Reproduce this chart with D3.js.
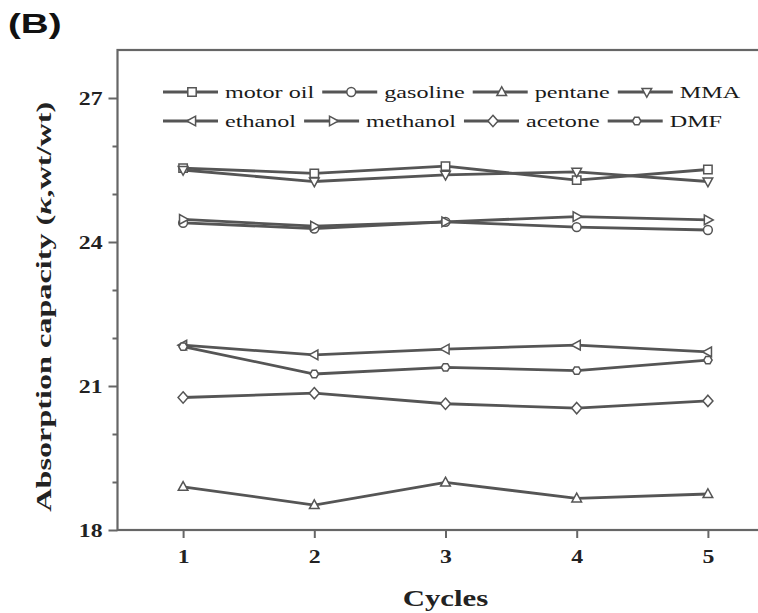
<!DOCTYPE html>
<html>
<head>
<meta charset="utf-8">
<script src="https://cdn.jsdelivr.net/npm/d3@7"></script>
<style>
  html, body { margin: 0; padding: 0; background: #fff; }
  svg { display: block; }
</style>
</head>
<body>
<div id="chart"></div>
<script>
// ---------- data ----------
const cycles = [1, 2, 3, 4, 5];
const xTickLabels = ["1", "2", "3", "4", "5"];
const yTicks = [18, 21, 24, 27];
const yMinorTicks = [19, 20, 22, 23, 25, 26];
const seriesNames = ["motor oil", "gasoline", "pentane", "MMA", "ethanol", "methanol", "acetone", "DMF"];
const seriesSymbols = ["square", "circle", "up", "down", "left", "right", "diamond", "hexagon"];
const motorOil = [25.54, 25.43, 25.58, 25.29, 25.51];
const gasoline = [24.40, 24.28, 24.42, 24.31, 24.25];
const pentane  = [18.90, 18.52, 18.99, 18.66, 18.75];
const mma      = [25.50, 25.26, 25.40, 25.46, 25.26];
const ethanol  = [21.85, 21.65, 21.77, 21.85, 21.71];
const methanol = [24.47, 24.33, 24.42, 24.53, 24.46];
const acetone  = [20.76, 20.85, 20.63, 20.54, 20.69];
const dmf      = [21.82, 21.25, 21.39, 21.32, 21.54];
const seriesValues = [motorOil, gasoline, pentane, mma, ethanol, methanol, acetone, dmf];

// ---------- layout ----------
const W = 758, H = 613;
const LINE = "#555", AXIS = "#666";
const SERIF = "'Liberation Serif', 'Times New Roman', serif";
const svg = d3.select("#chart").append("svg").attr("width", W).attr("height", H);
svg.append("rect").attr("width", W).attr("height", H).attr("fill", "#fff");

const x = d3.scaleLinear().domain([0.5, 5.5]).range([117.5, 773.5]);
const y = d3.scaleLinear().domain([18, 28]).range([530, 50]);

// horizontal stretch of a text placed at (tx, ty)
function stretchAt(sel, tx, ty, sx) {
  sel.attr("x", 0).attr("y", 0)
     .attr("transform", `translate(${tx},${ty}) scale(${sx},1)`);
}

function symbolPath(type, r) {
  const pts = {
    square: [[-1, -1], [1, -1], [1, 1], [-1, 1]],
    up: [[0, -1.25], [1.15, 0.85], [-1.15, 0.85]],
    down: [[0, 1.25], [1.15, -0.85], [-1.15, -0.85]],
    left: [[-1.25, 0], [0.85, -1.15], [0.85, 1.15]],
    right: [[1.25, 0], [-0.85, -1.15], [-0.85, 1.15]],
    diamond: [[0, -1.35], [1.2, 0], [0, 1.35], [-1.2, 0]],
    hexagon: d3.range(6).map(i => [Math.cos(Math.PI / 3 * i), Math.sin(Math.PI / 3 * i)])
  };
  if (type === "circle") {
    return d3.symbol().type(d3.symbolCircle).size(Math.PI * r * r * 1.1)();
  }
  const p = pts[type].map(([a, b]) => [a * r, b * r]);
  return "M" + p.map(q => q.join(",")).join("L") + "Z";
}

// ---------- frame ----------
svg.append("rect")
  .attr("x", x(0.5)).attr("y", y(28))
  .attr("width", x(5.5) - x(0.5)).attr("height", y(18) - y(28))
  .attr("fill", "none").attr("stroke", AXIS).attr("stroke-width", 2.2);

// ---------- axes ----------
const yAxis = svg.append("g").attr("transform", `translate(${x(0.5)},0)`)
  .call(d3.axisLeft(y).tickValues(yTicks).tickSize(9).tickFormat(d3.format("d")));
yAxis.select(".domain").remove();
yAxis.selectAll(".tick line").attr("stroke", AXIS).attr("stroke-width", 2);
yAxis.selectAll(".tick text")
  .attr("font-family", SERIF).attr("font-weight", "bold").attr("font-size", 19).attr("fill", "#222")
  .attr("dy", "0.34em");
stretchAt(yAxis.selectAll(".tick text"), -15, 0, 1.25);

const yMinor = svg.append("g").attr("transform", `translate(${x(0.5)},0)`)
  .call(d3.axisLeft(y).tickValues(yMinorTicks).tickSize(5).tickFormat(""));
yMinor.select(".domain").remove();
yMinor.selectAll(".tick line").attr("stroke", AXIS).attr("stroke-width", 2);

const xAxis = svg.append("g").attr("transform", `translate(0,${y(18)})`)
  .call(d3.axisBottom(x).tickValues(cycles).tickSize(8).tickFormat((d, i) => xTickLabels[i]));
xAxis.select(".domain").remove();
xAxis.selectAll(".tick line").attr("stroke", AXIS).attr("stroke-width", 2);
xAxis.selectAll(".tick text")
  .attr("font-family", SERIF).attr("font-weight", "bold").attr("font-size", 19).attr("fill", "#222")
  .attr("dy", "0.71em");
stretchAt(xAxis.selectAll(".tick text"), 0, 19, 1.25);

// axis titles
const xt = svg.append("text")
  .attr("text-anchor", "middle")
  .attr("font-family", SERIF).attr("font-weight", "bold").attr("font-size", 23).attr("fill", "#222")
  .text("Cycles");
stretchAt(xt, (x(1) + x(5)) / 2, 606, 1.34);

const yt = svg.append("text")
  .attr("text-anchor", "middle")
  .attr("font-family", SERIF).attr("font-weight", "bold").attr("font-size", 22).attr("fill", "#222");
yt.append("tspan").text("Absorption capacity (");
yt.append("tspan").attr("font-style", "italic").text("κ");
yt.append("tspan").text(",wt/wt)");
{
  const natural = yt.node().getComputedTextLength();
  const sx = 410 / natural;
  yt.attr("transform", `translate(51,${(y(18) + y(27.3)) / 2}) rotate(-90) scale(${sx},1)`);
}

// panel label
const pl = svg.append("text")
  .attr("font-family", "'Liberation Sans', Arial, sans-serif")
  .attr("font-weight", "bold").attr("font-size", 28).attr("fill", "#111")
  .text("(B)");
stretchAt(pl, 8, 33, 1.38);

// ---------- series ----------
const line = d3.line().x((d, i) => x(cycles[i])).y(d => y(d));
const gSeries = svg.append("g");
seriesValues.forEach((vals) => {
  gSeries.append("path").datum(vals)
    .attr("d", line).attr("fill", "none")
    .attr("stroke", LINE).attr("stroke-width", 2.8);
});
seriesValues.forEach((vals, k) => {
  gSeries.selectAll(null).data(vals).enter().append("path")
    .attr("transform", (d, i) => `translate(${x(cycles[i])},${y(d)})`)
    .attr("d", symbolPath(seriesSymbols[k], 4.2))
    .attr("fill", "#fff").attr("stroke", LINE).attr("stroke-width", 1.5);
});

// ---------- legend ----------
const legend = svg.append("g");
const rows = [[0, 1, 2, 3], [4, 5, 6, 7]];
const rowY = [92, 121];
const LSX = 1.38;
rows.forEach((row, r) => {
  let x0 = 163;
  row.forEach(k => {
    const g = legend.append("g").attr("transform", `translate(${x0},${rowY[r]})`);
    g.append("line").attr("x1", 0).attr("x2", 55).attr("y1", 0).attr("y2", 0)
      .attr("stroke", LINE).attr("stroke-width", 2.8);
    g.append("path").attr("transform", "translate(29,0)")
      .attr("d", symbolPath(seriesSymbols[k], 4.2))
      .attr("fill", "#fff").attr("stroke", LINE).attr("stroke-width", 1.5);
    const t = g.append("text").attr("dy", "0.32em")
      .attr("font-family", SERIF)
      .attr("font-size", 17.5).attr("fill", "#1a1a1a").text(seriesNames[k]);
    const natural = t.node().getComputedTextLength();
    stretchAt(t, 62, 0, LSX);
    x0 += 62 + natural * LSX + 8;
  });
});
</script>
</body>
</html>
